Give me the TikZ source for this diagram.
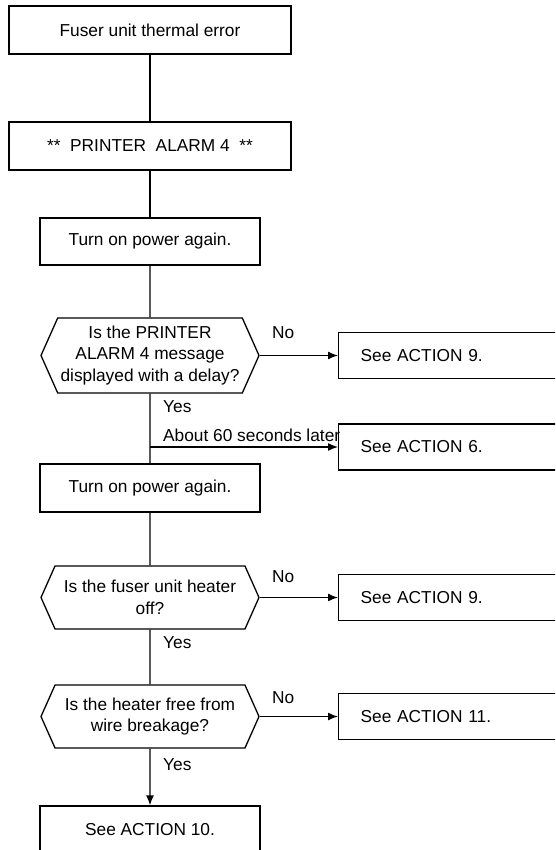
\documentclass[tikz,border=0pt]{standalone}
\usepackage{fontspec}
\setmainfont{Liberation Sans}
\usepackage{tikz}
\usetikzlibrary{shapes.symbols,arrows.meta,positioning}

\begin{document}
\begin{tikzpicture}[x=1pt, y=-1pt,
    procbox/.style={rectangle, draw, line width=1.3pt, minimum height=48pt, inner sep=2pt},
    askbox/.style={signal, signal to=west and east, signal pointer angle=132,
        draw, line width=1.3pt, minimum width=218pt, align=center, inner sep=1pt},
    seebox/.style={rectangle, draw, line width=1.3pt, anchor=west, minimum height=46pt,
        text width=216pt, inner xsep=22pt, align=left},
    lbl/.style={anchor=west, inner sep=0pt},
    link/.style={line width=1.4pt},
    arr/.style={-{Latex[length=10pt,width=8pt]}, line width=1.4pt},
    font=\fontsize{17.3}{21.5}\selectfont
]
    \useasboundingbox (0,0) rectangle (555,850);
    \clip (0,0) rectangle (555,850);

    % main column
    \node[procbox, minimum width=282pt] (fuser) at (150,30) {Fuser unit thermal error};
    \node[procbox, minimum width=282pt] (alarm) at (150,146) {**\ \ PRINTER\ \ ALARM 4\ \ **};
    \node[procbox, minimum width=220pt, minimum height=47pt] (poweron) at (150,241.5) {Turn on power again.};
    \node[askbox, minimum height=75pt] (qdelay) at (150,355.5) {Is the PRINTER\\ALARM 4 message\\displayed with a delay?};
    \node[procbox, minimum width=220pt] (poweragain) at (150,488) {Turn on power again.};
    \node[askbox, minimum height=63pt] (qheater) at (150,597.5) {Is the fuser unit heater\\off?};
    \node[askbox, minimum height=63pt] (qwire) at (150,716.5) {Is the heater free from\\wire breakage?};
    \node[procbox, minimum width=220pt] (act10) at (150,830) {See ACTION 10.};

    % right column
    \node[seebox] (act9a) at (338,355.5) {See ACTION 9.};
    \node[seebox] (act6) at (338,447) {See ACTION 6.};
    \node[seebox] (act9b) at (338,597.5) {See ACTION 9.};
    \node[seebox] (act11) at (338,716.5) {See ACTION 11.};

    % labels
    \node[lbl] (no1) at (272,333) {No};
    \node[lbl] (yes1) at (163,407) {Yes};
    \node[lbl] (later) at (163,435) {About 60 seconds later};
    \node[lbl] (no2) at (272,577) {No};
    \node[lbl] (yes2) at (163,643) {Yes};
    \node[lbl] (no3) at (272,698) {No};
    \node[lbl] (yes3) at (163,765) {Yes};

    \coordinate (split) at (qdelay.south |- act6.west);

    \draw[link] (fuser) -- (alarm);
    \draw[link] (alarm) -- (poweron);
    \draw[link] (poweron) -- (qdelay);
    \draw[link] (qdelay) -- (poweragain);
    \draw[link] (poweragain) -- (qheater);
    \draw[link] (qheater) -- (qwire);
    \draw[arr] (qwire) -- (act10);

    \draw[arr] (qdelay.east) -- (act9a.west);
    \draw[arr] (split) -- (act6.west);
    \draw[arr] (qheater.east) -- (act9b.west);
    \draw[arr] (qwire.east) -- (act11.west);
\end{tikzpicture}
\end{document}
